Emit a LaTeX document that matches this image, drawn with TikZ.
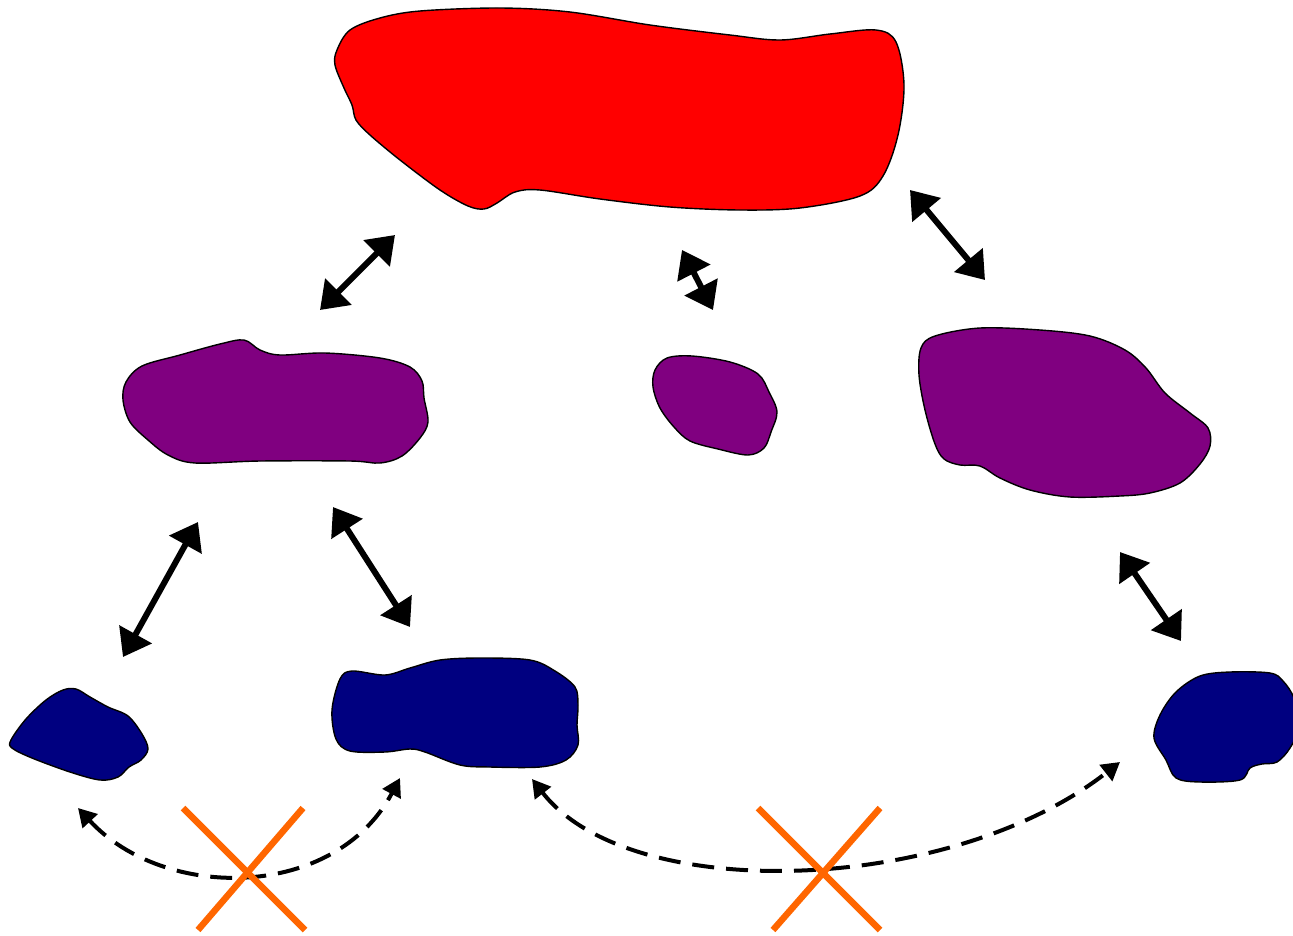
\documentclass[tikz,border=0pt]{standalone}
\usetikzlibrary{arrows.meta}
\definecolor{blobred}{HTML}{FF0000}
\definecolor{blobpurple}{HTML}{800080}
\definecolor{blobnavy}{HTML}{000080}
\definecolor{crossorange}{HTML}{FF6600}
\tikzset{
  blob/.style={draw=black, line width=1.4pt, line join=round},
  link/.style={line width=6pt, {Triangle[length=26pt,width=36pt]}-{Triangle[length=26pt,width=36pt]}},
  weaklink/.style={line width=4pt, dash pattern=on 22pt off 12pt, {Triangle[length=18pt,width=20pt]}-{Triangle[length=18pt,width=20pt]}},
  cross/.style={draw=crossorange, line width=6.5pt}
}
\begin{document}
\begin{tikzpicture}[x=1pt,y=-1pt]
\useasboundingbox (0,0) rectangle (1293,935);

% top level region
\draw[blob, fill=blobred] plot[smooth cycle, tension=0.55] coordinates {
  (337,50) (350,30) (380,18) (420,11) (500,8) (570,12) (650,25) (730,35)
  (780,40) (830,34) (876,30) (896,42) (904,85) (898,135) (883,176)
  (860,196) (800,208) (740,210) (670,207) (600,199) (540,190) (515,192)
  (497,203) (484,209) (468,206) (440,190) (400,160) (370,135) (356,120)
  (352,105) (344,88) (335,65)};

% middle level regions
\draw[blob, fill=blobpurple] plot[smooth cycle, tension=0.55] coordinates {
  (126,382) (142,366) (180,355) (220,344) (244,340) (260,350) (280,355)
  (325,353) (380,358) (410,367) (422,381) (424,398) (428,422) (420,438)
  (402,456) (380,463) (350,461) (260,461) (195,463) (168,455) (148,440)
  (130,422) (123,400)};
\draw[blob, fill=blobpurple] plot[smooth cycle, tension=0.55] coordinates {
  (655,370) (667,358) (692,356) (730,362) (758,374) (769,392) (777,412)
  (771,432) (764,448) (748,455) (718,449) (690,441) (674,427) (660,408)
  (653,387)};
\draw[blob, fill=blobpurple] plot[smooth cycle, tension=0.55] coordinates {
  (921,348) (935,336) (980,328) (1040,330) (1090,336) (1125,350)
  (1146,368) (1165,393) (1190,413) (1208,428) (1210,446) (1200,464)
  (1180,483) (1150,493) (1120,496) (1070,497) (1030,490) (1000,478)
  (980,466) (960,465) (944,459) (935,444) (925,410) (919,375)};

% bottom level regions
\draw[blob, fill=blobnavy] plot[smooth cycle, tension=0.55] coordinates {
  (11,740) (26,719) (46,700) (63,690) (76,689) (90,697) (108,707)
  (128,716) (142,734) (148,749) (141,760) (129,767) (118,777) (100,780)
  (70,772) (32,758) (12,748)};
\draw[blob, fill=blobnavy] plot[smooth cycle, tension=0.55] coordinates {
  (340,679) (352,671) (385,675) (410,668) (440,660) (480,658) (530,660)
  (555,671) (575,687) (578,705) (577,725) (578,745) (566,760) (540,767)
  (490,767) (460,765) (425,752) (410,749) (385,752) (350,751) (336,739)
  (332,710)};
\draw[blob, fill=blobnavy] plot[smooth cycle, tension=0.55] coordinates {
  (1154,738) (1160,715) (1176,692) (1200,676) (1230,672) (1270,673)
  (1283,681) (1294,698) (1300,725) (1290,748) (1277,762) (1262,764)
  (1250,768) (1240,780) (1200,782) (1176,778) (1166,760)};

% end points of the links
\coordinate (a1) at (320,310);  \coordinate (b1) at (395,235);
\coordinate (a2) at (682,250);  \coordinate (b2) at (713,310);
\coordinate (a3) at (910,190);  \coordinate (b3) at (985,280);
\coordinate (a4) at (123,657);  \coordinate (b4) at (198,522);
\coordinate (a5) at (333,507);  \coordinate (b5) at (410,627);
\coordinate (a6) at (1120,552); \coordinate (b6) at (1181,641);

\draw[link] (a1) -- (b1);
\draw[link] (a2) -- (b2);
\draw[link] (a3) -- (b3);
\draw[link] (a4) -- (b4);
\draw[link] (a5) -- (b5);
\draw[link] (a6) -- (b6);

% broken links between the bottom regions
\coordinate (c1) at (78,808);  \coordinate (d1) at (400,778);
\coordinate (c2) at (532,779); \coordinate (d2) at (1120,762);
\draw[weaklink] (c1) .. controls (165,902) and (335,900) .. (d1);
\draw[weaklink] (c2) .. controls (630,905) and (950,895) .. (d2);

% crosses marking the broken links
\draw[cross] (183,808) -- (305,930);
\draw[cross] (303,808) -- (198,930);
\draw[cross] (758,808) -- (880,930);
\draw[cross] (880,808) -- (773,930);
\end{tikzpicture}
\end{document}
